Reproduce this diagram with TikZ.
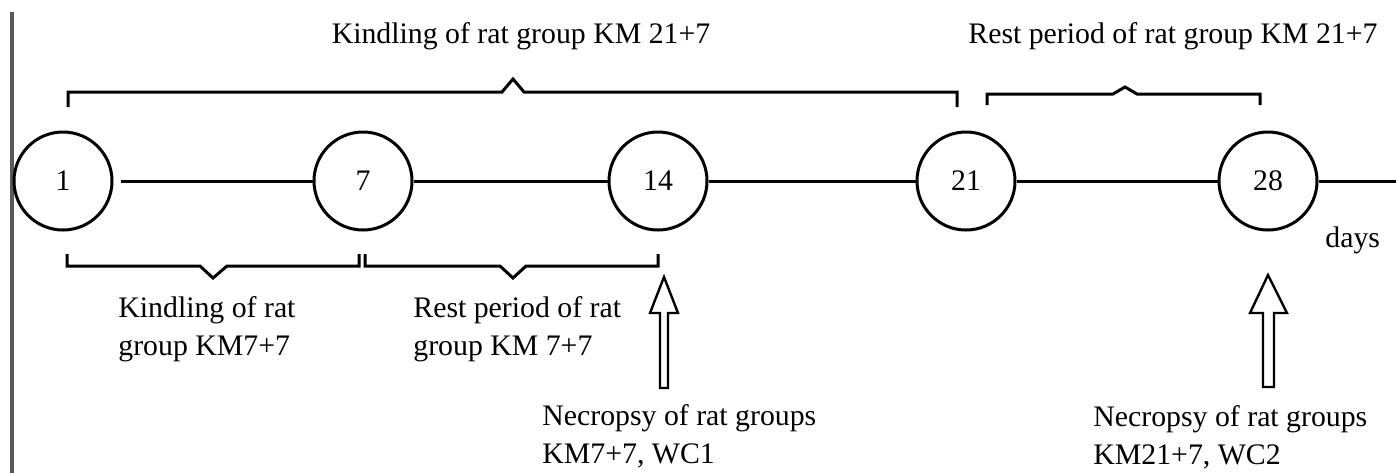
\documentclass[tikz,border=0pt]{standalone}
\usepackage{fontspec}
\setmainfont{Liberation Serif}
\begin{document}
\begin{tikzpicture}[x=0.5pt,y=-0.5pt,
  txt/.style={font=\fontsize{14.9}{19}\selectfont,inner sep=0pt},
  day/.style={circle,draw,line width=1.5pt,minimum size=49pt,inner sep=0pt,font=\fontsize{14.9}{16}\selectfont},
  link/.style={line width=1.5pt},
  brace/.style={line width=1.5pt,line join=miter},
  hollow/.style={line width=1.2pt,line join=miter,fill=white}]
\useasboundingbox (0,0) rectangle (1396,473);
% scan edge
\draw[line width=1.6pt,black!65] (12,12) -- (12,473);
% day circles
\node[day] (c1) at (63,181) {1};
\node[day] (c7) at (363,181) {7};
\node[day] (c14) at (658,181) {14};
\node[day] (c21) at (966,181) {21};
\node[day] (c28) at (1268,181) {28};
\coordinate (tend) at (1396,181);
% timeline
\draw[link,shorten <=3.5pt] (c1) -- (c7);
\draw[link] (c7) -- (c14);
\draw[link] (c14) -- (c21);
\draw[link] (c21) -- (c28);
\draw[link] (c28) -- (tend);
% braces
\draw[brace] (68,107) -- (68,92) -- (502,92) -- (513,79) -- (524,92) -- (957,92) -- (957,107);
\draw[brace] (987,105) -- (987,94) -- (1113,94) -- (1125,87) -- (1137,94) -- (1260,94) -- (1260,105);
\draw[brace] (67,254) -- (67,266) -- (200,266) -- (213,278) -- (227,266) -- (359,266) -- (359,254);
\draw[brace] (365,254) -- (365,266) -- (500,266) -- (513,278) -- (526,266) -- (658,266) -- (658,254);
% labels
\node[txt,anchor=base] (t1) at (521,43) {Kindling of rat group KM 21+7};
\node[txt,anchor=base west] (t2) at (968,43) {Rest period of rat group KM 21+7};
\node[txt,anchor=north west,align=left] (t3) at (118,296) {Kindling of rat\\group KM7+7};
\node[txt,anchor=north west,align=left] (t4) at (413,296) {Rest period of rat\\group KM 7+7};
\node[txt,anchor=north west,align=left] (t5) at (542,404) {Necropsy of rat groups\\KM7+7, WC1};
\node[txt,anchor=north west,align=left] (t6) at (1093,405) {Necropsy of rat groups\\KM21+7, WC2};
\node[txt,anchor=base west] (days) at (1325,247) {days};
% hollow arrows
\draw[hollow] (664,277) -- (678,313) -- (668,313) -- (668,388) -- (660,388) -- (660,313) -- (650,313) -- cycle;
\draw[hollow] (1268,275) -- (1287,313) -- (1274,313) -- (1274,387) -- (1263,387) -- (1263,313) -- (1250,313) -- cycle;
\end{tikzpicture}
\end{document}
